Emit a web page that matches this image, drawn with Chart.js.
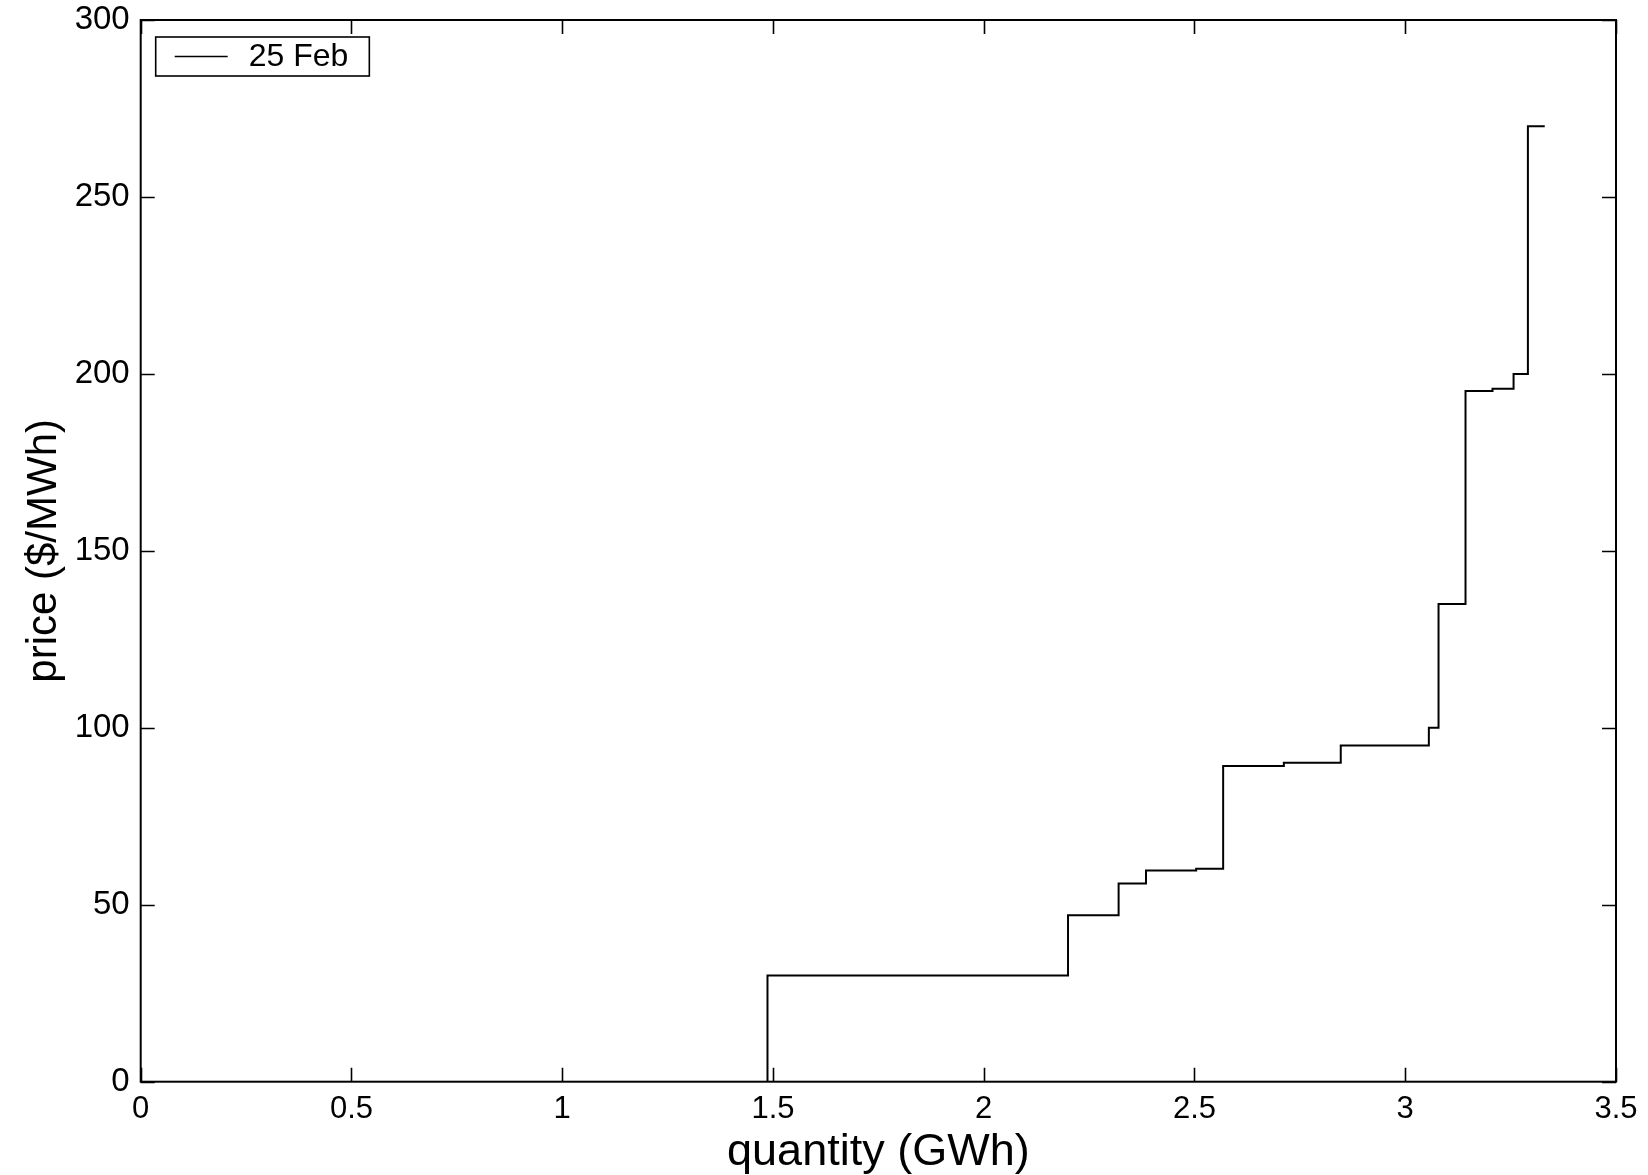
<!DOCTYPE html>
<html>
<head>
<meta charset="utf-8">
<script src="https://cdn.jsdelivr.net/npm/chart.js@4.4.1/dist/chart.umd.min.js"></script>
<style>
  html, body { margin: 0; padding: 0; background: #ffffff; }
  #wrap { width: 1648px; height: 1175px; }
</style>
</head>
<body>
<div id="wrap"><canvas id="c" width="1648" height="1175"></canvas></div>
<script>
// ---- data ----
const seriesLabel = '25 Feb';
const quantityGWh = [1.487, 1.487, 2.2, 2.32, 2.385, 2.504, 2.568, 2.712, 2.847, 3.056, 3.079, 3.143, 3.207, 3.257, 3.291, 3.331];
const priceMWh    = [0,     30,    47,  56,   59.7,  60.2,  89.2,  90.1,  95,    100,   135,   195.2, 195.8, 200,   270,   270];
const xTickValues = [0, 0.5, 1, 1.5, 2, 2.5, 3, 3.5];
const xTickLabels = ['0', '0.5', '1', '1.5', '2', '2.5', '3', '3.5'];
const yTickValues = [0, 50, 100, 150, 200, 250, 300];
const yTickLabels = ['0', '50', '100', '150', '200', '250', '300'];
const xTitle = 'quantity (GWh)';
const yTitle = 'price ($/MWh)';

const FONT = '"Liberation Sans", Arial, Helvetica, sans-serif';

const points = quantityGWh.map((q, i) => ({ x: q, y: priceMWh[i] }));

const framePlugin = {
  id: 'frame',
  afterDraw(chart) {
    const { ctx, chartArea: a, scales: { x, y } } = chart;
    ctx.save();
    ctx.strokeStyle = '#000';
    ctx.lineCap = 'butt';
    // inward ticks on all four sides
    ctx.lineWidth = 1.6;
    const L = 14;
    ctx.beginPath();
    x.ticks.forEach(t => {
      const px = Math.round(x.getPixelForValue(t.value)) + 0.5;
      ctx.moveTo(px, a.bottom); ctx.lineTo(px, a.bottom - L);
      ctx.moveTo(px, a.top); ctx.lineTo(px, a.top + L);
    });
    y.ticks.forEach(t => {
      const py = Math.round(y.getPixelForValue(t.value)) + 0.5;
      ctx.moveTo(a.left, py); ctx.lineTo(a.left + L, py);
      ctx.moveTo(a.right, py); ctx.lineTo(a.right - L, py);
    });
    ctx.stroke();
    // frame
    ctx.lineWidth = 2;
    ctx.strokeRect(a.left, a.top, a.right - a.left, a.bottom - a.top);

    // legend box (MATLAB style)
    const ds = chart.data.datasets[0];
    ctx.font = '32px ' + FONT;
    const tw = ctx.measureText(ds.label).width;
    const bx = a.left + 15, by = a.top + 17;
    const bw = 20 + 53 + 21 + tw + 20, bh = 39;
    ctx.fillStyle = '#fff';
    ctx.fillRect(bx, by, bw, bh);
    ctx.lineWidth = 1.6;
    ctx.strokeStyle = '#000';
    ctx.strokeRect(bx, by, bw, bh);
    ctx.strokeStyle = ds.borderColor;
    ctx.beginPath();
    ctx.moveTo(bx + 19, by + bh / 2); ctx.lineTo(bx + 72, by + bh / 2);
    ctx.stroke();
    ctx.fillStyle = '#000';
    ctx.textBaseline = 'middle';
    ctx.textAlign = 'left';
    ctx.fillText(ds.label, bx + 93, by + bh / 2 + 1);
    ctx.restore();
  }
};

new Chart(document.getElementById('c'), {
  type: 'line',
  data: {
    datasets: [{
      label: seriesLabel,
      data: points,
      stepped: true,
      borderColor: '#000',
      borderWidth: 2,
      pointRadius: 0,
      fill: false,
      tension: 0
    }]
  },
  options: {
    responsive: false,
    animation: false,
    layout: { padding: { top: 20, right: 32, left: 0, bottom: 0 } },
    plugins: {
      legend: { display: false },
      tooltip: { enabled: false },
      title: { display: false }
    },
    scales: {
      x: {
        type: 'linear',
        min: 0, max: 3.5,
        afterBuildTicks: s => { s.ticks = xTickValues.map(v => ({ value: v })); },
        afterFit: s => { s.height = 93.3; s.paddingLeft = 0; s.paddingRight = 0; },
        grid: { display: false, drawTicks: false },
        border: { display: false },
        ticks: {
          padding: 9,
          color: '#000',
          font: { family: FONT, size: 31 },
          maxRotation: 0,
          callback: (v) => { const i = xTickValues.indexOf(v); return i >= 0 ? xTickLabels[i] : ''; }
        },
        title: {
          display: true, text: xTitle, color: '#000',
          font: { family: FONT, size: 45, lineHeight: 1 },
          padding: { top: 0, bottom: 0 }
        }
      },
      y: {
        type: 'linear',
        min: 0, max: 300,
        afterBuildTicks: s => { s.ticks = yTickValues.map(v => ({ value: v })); },
        afterFit: s => { s.width = 140.7; s.paddingTop = 0; s.paddingBottom = 0; },
        grid: { display: false, drawTicks: false },
        border: { display: false },
        ticks: {
          padding: 11,
          color: '#000',
          font: { family: FONT, size: 33 },
          callback: (v) => { const i = yTickValues.indexOf(v); return i >= 0 ? yTickLabels[i] : ''; }
        },
        title: {
          display: true, text: yTitle, color: '#000',
          font: { family: FONT, size: 42 },
          padding: { top: 19, bottom: 0 }
        }
      }
    }
  },
  plugins: [framePlugin]
});
</script>
</body>
</html>
